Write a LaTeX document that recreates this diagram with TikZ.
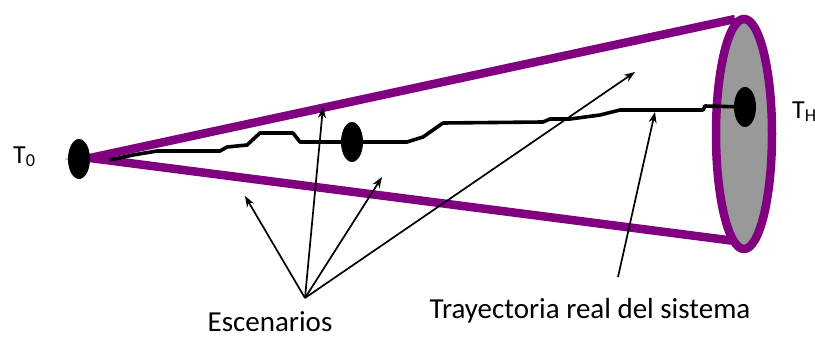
\documentclass[tikz,border=0pt]{standalone}
\usepackage{fontspec}
\setmainfont{Carlito}
\usetikzlibrary{shapes.geometric,arrows.meta}
\definecolor{conepurple}{RGB}{128,0,128}
\definecolor{discgray}{RGB}{153,153,153}
\begin{document}
\begin{tikzpicture}[x=1pt,y=-1pt,
  conestroke/.style={draw=conepurple,line width=8.5pt},
  dotmark/.style={ellipse,fill=black,inner sep=0pt,minimum width=22pt,minimum height=40pt},
  trajline/.style={line width=3.6pt,line join=round},
  pointer/.style={-{Stealth[length=11pt,width=8pt]},line width=1.7pt},
  caption/.style={font=\fontsize{29}{33}\selectfont,inner sep=0pt},
  timemark/.style={font=\fontsize{26}{30}\selectfont,inner sep=0pt,anchor=base west}]
  \useasboundingbox (0,0) rectangle (815,340);

  % cone of possible futures
  \coordinate (apex) at (90,158);
  \coordinate (conetop) at (735,19);
  \coordinate (conebot) at (735,241);
  \draw[conestroke,line join=miter] (conetop) -- (apex) -- (conebot);

  % horizon disc
  \node[ellipse,draw=conepurple,line width=8.5pt,fill=discgray,inner sep=0pt,
        minimum width=56pt,minimum height=230pt] (disc) at (744,134) {};

  % start, intermediate and final states
  \node[dotmark] (t0dot) at (79,159) {};
  \node[dotmark] (middot) at (352,142) {};
  \node[dotmark] (thdot) at (745,107) {};

  % real trajectory of the system
  \draw[trajline] (110,160) -- (133,155) -- (157,151) -- (220,151) -- (227,147)
    -- (247,145) -- (260,133) -- (293,133) -- (300,142) -- (middot.center)
    -- (407,142) -- (423,137) -- (443,123) -- (543,122) -- (550,119) -- (570,119)
    -- (600,115) -- (620,110) -- (703,110) -- (705,106) -- (thdot.center);

  % labels
  \node[timemark] (t0lab) at (13,163) {T\textsubscript{0}};
  \node[timemark] (thlab) at (792,118) {T\textsubscript{H}};
  \node[caption,anchor=base] (esc) at (270,331) {Escenarios};
  \node[caption,anchor=base] (traj) at (590,318) {Trayectoria real del sistema};

  % pointers to the scenarios
  \coordinate (escfan) at (305,298);
  \coordinate (scA) at (245,196);
  \coordinate (scB) at (323,107);
  \coordinate (scC) at (382,177);
  \coordinate (scD) at (635,72);
  \foreach \tgt in {scA,scB,scC,scD}
    \draw[pointer] (escfan) -- (\tgt);

  % pointer to the real trajectory
  \coordinate (trajfoot) at (618,277);
  \coordinate (trajtip) at (655,112);
  \draw[pointer] (trajfoot) -- (trajtip);
\end{tikzpicture}
\end{document}
